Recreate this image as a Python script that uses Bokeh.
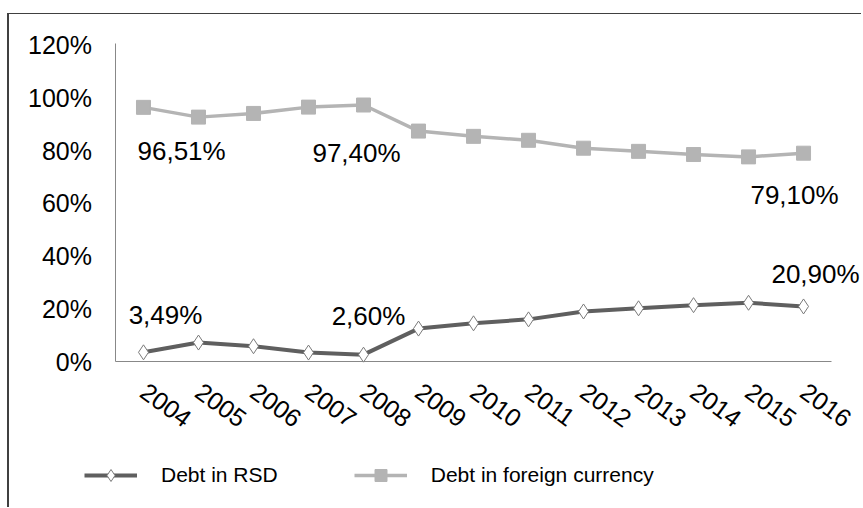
from bokeh.plotting import figure
from bokeh.models import (Range1d, FixedTicker, PrintfTickFormatter, Legend,
                          LegendItem, ColumnDataSource)
from bokeh.core.properties import value
from bokeh.embed import file_html
from bokeh.resources import INLINE
import math

years = ["2004", "2005", "2006", "2007", "2008", "2009", "2010",
         "2011", "2012", "2013", "2014", "2015", "2016"]
debt_rsd = [3.49, 7.2, 5.8, 3.4, 2.60, 12.5, 14.5, 16.0, 19.0, 20.2, 21.4, 22.3, 20.90]
debt_fx = [96.51, 92.8, 94.2, 96.6, 97.40, 87.5, 85.5, 84.0, 81.0, 79.8, 78.6, 77.7, 79.10]
y_ticks = [0, 20, 40, 60, 80, 100, 120]

# data labels shown on the chart
lab_fx_years = ["2004", "2008", "2016"]
lab_fx_vals = [96.51, 97.40, 79.10]
lab_fx_text = ["96,51%", "97,40%", "79,10%"]
lab_rsd_years = ["2004", "2008", "2016"]
lab_rsd_vals = [3.49, 2.60, 20.90]
lab_rsd_text = ["3,49%", "2,60%", "20,90%"]

FONT = "Liberation Sans"
RSD_COL = "#5f5f5f"
FX_COL = "#b4b4b4"

xs = list(range(len(years)))
pos = {y: i for i, y in enumerate(years)}

# the frame fills the whole canvas; axes are pinned at y=0 and x=-0.5
p = figure(x_range=Range1d(-2.436, 13.09), y_range=Range1d(-55.82, 131.77),
           width=854, height=494, output_backend="svg", toolbar_location=None,
           min_border=0, min_border_left=0, min_border_right=0,
           min_border_top=0, min_border_bottom=0)
p.margin = (13, 0, 0, 7)
p.styles = {"border-left": "2px solid #404040", "border-top": "1px solid #404040"}
p.outline_line_color = None
p.grid.visible = False

p.xaxis.ticker = FixedTicker(ticks=xs)
p.xaxis.major_label_overrides = {i: y for i, y in enumerate(years)}
p.xaxis.bounds = (-0.5, len(years) - 0.5)
p.xaxis.fixed_location = 0
p.yaxis.ticker = FixedTicker(ticks=y_ticks)
p.yaxis.formatter = PrintfTickFormatter(format="%d%%")
p.yaxis.bounds = (0, 120.8)
p.yaxis.fixed_location = -0.5
for ax in (p.xaxis, p.yaxis):
    ax.axis_line_color = "#888888"
    ax.axis_line_width = 1
    ax.major_tick_line_color = None
    ax.minor_tick_line_color = None
    ax.major_tick_out = 0
    ax.major_tick_in = 0
    ax.minor_tick_out = 0
    ax.major_label_text_font = FONT
    ax.major_label_text_font_size = "25px"
    ax.major_label_text_color = "#000000"
p.yaxis.major_label_standoff = 24
p.xaxis.major_label_orientation = -math.radians(36)
p.xaxis.major_label_standoff = 27

fx_line = p.line(xs, debt_fx, line_color=FX_COL, line_width=3.5)
fx_pts = p.scatter(xs, debt_fx, marker="square", size=14, fill_color=FX_COL,
                   line_color=FX_COL)
rsd_line = p.line(xs, debt_rsd, line_color=RSD_COL, line_width=4)
rsd_pts = p.scatter(xs, debt_rsd, marker="diamond", size=15, fill_color="white",
                    line_color="#7a7a7a", line_width=1)

fx_src = ColumnDataSource(dict(x=[pos[y] for y in lab_fx_years], y=lab_fx_vals,
                               t=lab_fx_text, xo=[-6, -7, -9], yo=[44, 48, 42],
                               al=["left", "center", "center"]))
p.text(x="x", y="y", text="t", source=fx_src, x_offset="xo", y_offset="yo",
       text_align="al", text_baseline="middle", text_font=value(FONT),
       text_font_size="26px", text_color="#000000")
rsd_src = ColumnDataSource(dict(x=[pos[y] for y in lab_rsd_years], y=lab_rsd_vals,
                                t=lab_rsd_text, xo=[22, 5, 12], yo=[-37, -39, -32]))
p.text(x="x", y="y", text="t", source=rsd_src, x_offset="xo", y_offset="yo",
       text_align="center", text_baseline="middle", text_font=value(FONT),
       text_font_size="26px", text_color="#000000")

legend = Legend(items=[LegendItem(label="Debt in RSD", renderers=[rsd_line, rsd_pts]),
                       LegendItem(label="Debt in foreign currency", renderers=[fx_line, fx_pts])],
                location=(75, 18), orientation="horizontal",
                glyph_width=53, glyph_height=30, label_height=20, label_standoff=24,
                spacing=76, padding=0, margin=0, border_line_color=None,
                background_fill_alpha=0, label_text_font=FONT,
                label_text_font_size="21px", label_text_color="#000000")
p.add_layout(legend, "center")

open("out.html", "w").write(file_html(p, INLINE))
